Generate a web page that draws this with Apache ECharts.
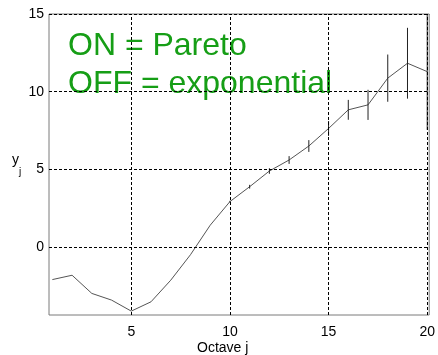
<!DOCTYPE html>
<html>
<head>
<meta charset="utf-8">
<script src="https://cdn.jsdelivr.net/npm/echarts@6/dist/echarts.min.js"></script>
<style>
  html, body { margin: 0; padding: 0; background: #fff; }
  #chart { width: 438px; height: 355px; }
</style>
</head>
<body>
<div id="chart"></div>
<script>
  // octave index j
  var octaves = [1, 2, 3, 4, 5, 6, 7, 8, 9, 10, 11, 12, 13, 14, 15, 16, 17, 18, 19, 20];
  // y_j estimates
  var yj = [-2.1, -1.82, -2.99, -3.42, -4.13, -3.53, -2.14, -0.5, 1.4, 2.92,
            3.88, 4.89, 5.6, 6.5, 7.63, 8.83, 9.15, 10.87, 11.83, 11.29];
  // half width of the confidence bars
  var errHalf = [0, 0, 0, 0, 0, 0, 0, 0, 0, 0.05,
                 0.12, 0.18, 0.25, 0.38, 0.48, 0.64, 0.97, 1.52, 2.28, 3.75];
  var xTicks = [5, 10, 15, 20];
  var yTicks = [0, 5, 10, 15];
  var legendLines = ['ON = Pareto', 'OFF = exponential'];

  var lineData = octaves.map(function (o, i) { return [o, yj[i]]; });
  var errData = octaves.map(function (o, i) { return [o, yj[i] - errHalf[i], yj[i] + errHalf[i]]; })
    .filter(function (d) { return d[2] > d[1]; });

  var gridMarks = xTicks.map(function (v) { return { xAxis: v }; })
    .concat(yTicks.map(function (v) { return { yAxis: v }; }));

  var chart = echarts.init(document.getElementById('chart'));
  chart.setOption({
    animation: false,
    backgroundColor: '#fff',
    textStyle: { fontFamily: 'Liberation Sans' },
    grid: {
      left: 49, right: 6.5, top: 14, bottom: 40,
      show: true, borderColor: '#7a7a7a', borderWidth: 1
    },
    xAxis: {
      type: 'value', min: 0.83, max: 20.1,
      axisLine: { show: false },
      axisTick: { show: false },
      splitLine: { show: false },
      axisLabel: {
        customValues: xTicks, color: '#000', fontSize: 14, margin: 10,
        showMinLabel: true, showMaxLabel: true
      }
    },
    yAxis: {
      type: 'value', min: -4.38, max: 15,
      axisLine: { show: false },
      axisTick: { show: false },
      splitLine: { show: false },
      axisLabel: {
        customValues: yTicks, color: '#000', fontSize: 14, margin: 5,
        showMinLabel: true, showMaxLabel: true
      }
    },
    graphic: [
      { type: 'text', left: 12, top: 153, style: { text: 'y', font: '14px "Liberation Sans"', fill: '#000' } },
      { type: 'text', left: 19, top: 167, style: { text: 'j', font: '10px "Liberation Sans"', fill: '#000' } },
      { type: 'text', left: 197, top: 341, style: { text: 'Octave j', font: '14px "Liberation Sans"', fill: '#000' } },
      { type: 'text', left: 68, top: 30, style: { text: legendLines[0], font: '32px "Liberation Sans"', fill: '#169e16' } },
      { type: 'text', left: 68, top: 68, style: { text: legendLines[1], font: '32px "Liberation Sans"', fill: '#169e16' } }
    ],
    series: [
      {
        type: 'line',
        data: lineData,
        symbol: 'none',
        lineStyle: { color: '#555', width: 1 },
        markLine: {
          silent: true,
          symbol: 'none',
          label: { show: false },
          lineStyle: { color: '#000', width: 1, type: [3, 2] },
          data: gridMarks
        },
        z: 3
      },
      {
        type: 'custom',
        data: errData,
        clip: true,
        renderItem: function (params, api) {
          var lo = api.coord([api.value(0), api.value(1)]);
          var hi = api.coord([api.value(0), api.value(2)]);
          return {
            type: 'line',
            shape: { x1: lo[0], y1: lo[1], x2: hi[0], y2: hi[1] },
            style: { stroke: '#222', lineWidth: 1 }
          };
        },
        z: 4
      }
    ]
  });
</script>
</body>
</html>
